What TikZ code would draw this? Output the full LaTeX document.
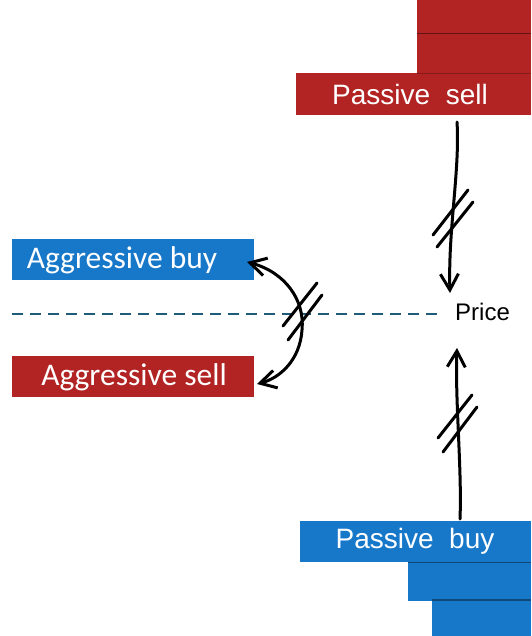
\documentclass[tikz,border=0pt]{standalone}
\usepackage{fontspec}
\setmainfont{Liberation Sans}
\newfontfamily\aggfont{Carlito}
\usetikzlibrary{arrows.meta}
\definecolor{bred}{HTML}{B22424}
\definecolor{bblue}{HTML}{1777C9}
\definecolor{dteal}{HTML}{1F5C7A}
\begin{document}
\begin{tikzpicture}[x=1pt,y=-1pt,
  bar/.style={draw=none,inner sep=0pt,anchor=north west},
  redbar/.style={bar,fill=bred},
  bluebar/.style={bar,fill=bblue},
  sep/.style={line width=1.2pt},
  lbl/.style={text=white,font=\fontsize{28}{28}\selectfont},
  agglbl/.style={text=white,font=\aggfont\fontsize{31.5}{31.5}\selectfont},
  hand/.style={line width=3pt,line cap=round,line join=round},
  tip/.style={-{Straight Barb[length=16pt,width=18pt,line width=3pt]}},
  slash/.style={hand}]
\useasboundingbox (0,0) rectangle (531,636);
% passive sell stack
\node[redbar,minimum width=114pt,minimum height=33pt] (s1) at (417,0) {};
\node[redbar,minimum width=114pt,minimum height=41pt] (s2) at (417,32) {};
\node[redbar,minimum width=235pt,minimum height=42pt] (psell) at (296,73) {};
\draw[sep,bred!55!black] (s1.south west) -- (s1.south east);
\draw[sep,bred!75!black] (s2.south west) -- (s2.south east);
\node[lbl] (pselltxt) at (410,94) {Passive\ \ sell};
% passive buy stack
\node[bluebar,minimum width=123pt,minimum height=40pt] (b2) at (408,561) {};
\node[bluebar,minimum width=99pt,minimum height=36pt] (b3) at (432,600) {};
\node[bluebar,minimum width=231pt,minimum height=41pt] (pbuy) at (300,521) {};
\draw[sep,bblue!60!black] (pbuy.south -| b2.west) -- (pbuy.south east);
\draw[sep,bblue!60!black] (b3.north west) -- (b3.north east);
\node[lbl] (pbuytxt) at (415,541) {Passive\ \ buy};
% aggressive boxes
\node[bluebar,minimum width=242pt,minimum height=41pt] (abuy) at (12,239) {};
\node[agglbl] (abuytxt) at (122,260) {Aggressive buy};
\node[redbar,minimum width=242pt,minimum height=41pt] (asell) at (12,356) {};
\node[agglbl] (aselltxt) at (134,377) {Aggressive sell};
% price line
\node[anchor=west,inner sep=0pt,font=\fontsize{24}{24}\selectfont] (price) at (455,312) {Price};
\coordinate (dl) at (12,314);
\coordinate (dr) at (440,314);
\draw[dteal,line width=2.5pt,dash pattern=on 11pt off 7pt] (dl) -- (dr);
% top arrow
\coordinate (ts) at (457,122);
\coordinate (te) at (450,293);
\draw[hand,tip] (ts) .. controls (460,170) and (448,230) .. (te);
\draw[slash] (433,235) -- (468,190);
\draw[slash] (437,247) -- (473,202);
% bottom arrow
\coordinate (bs) at (460,519);
\coordinate (be) at (457,348);
\draw[hand,tip] (bs) .. controls (462,470) and (455,400) .. (be);
\draw[slash] (438,438) -- (472,395);
\draw[slash] (443,452) -- (477,407);
% curved double arrow
\coordinate (ca) at (247,262);
\coordinate (cb) at (257,384);
\draw[hand,{Straight Barb[length=16pt,width=18pt,line width=3pt]}-{Straight Barb[length=16pt,width=18pt,line width=3pt]}]
  (ca) .. controls (285,272) and (305,300) .. (302,330) .. controls (300,360) and (280,378) .. (cb);
\draw[slash] (283,326) -- (317,283);
\draw[slash] (288,340) -- (322,295);
\end{tikzpicture}
\end{document}
